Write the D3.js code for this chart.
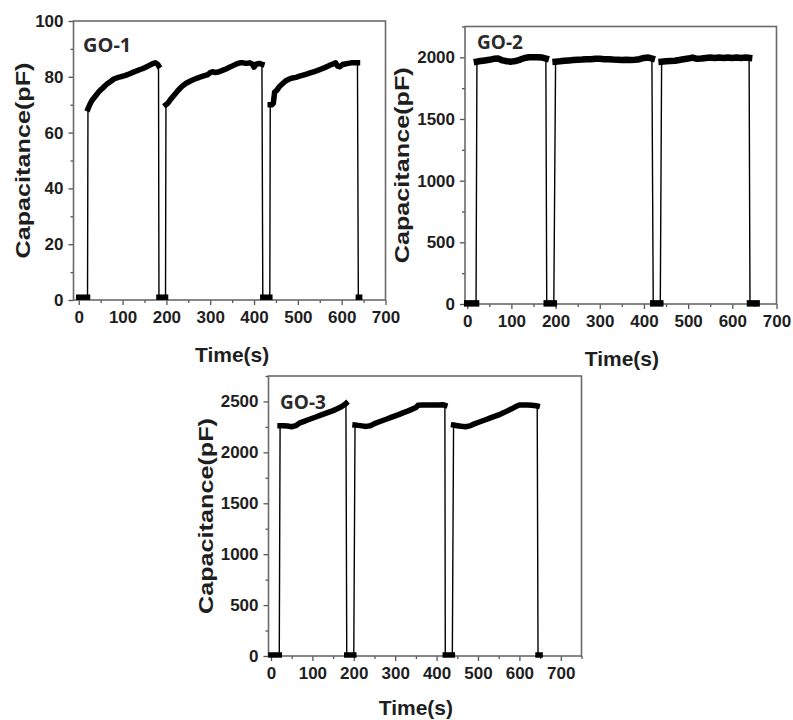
<!DOCTYPE html>
<html>
<head>
<meta charset="utf-8">
<script src="https://cdn.jsdelivr.net/npm/d3@7"></script>
<style>
  body { margin: 0; background: #fff; }
  svg { display: block; }
</style>
</head>
<body>
<svg id="fig" width="793" height="720"></svg>
<script>
// ---- data: capacitance vs time for three GO samples, three on/off cycles each ----
const go1Time = [0, 5, 10, 15, 20,
  21, 25, 30, 35, 40, 45, 50, 55, 60, 65, 70, 75, 80, 85, 90, 95, 100, 105, 110, 115, 120, 125, 130, 135, 140, 145, 150, 155, 160, 165, 170, 175, 180, 182,
  183, 188, 193, 198,
  199, 203, 210, 218, 226, 235, 245, 255, 265, 275, 285, 295, 300, 305, 312, 320, 328, 336, 344, 352, 360, 368, 375, 382, 390, 396, 400, 405, 412, 418,
  420, 425, 430, 436,
  437, 441, 444, 447, 451, 458, 465, 472, 480, 488, 496, 504, 512, 520, 528, 536, 544, 552, 560, 567, 574, 580, 586, 591, 596, 602, 608, 615, 622, 630, 636,
  638, 641];
const go1Cap = [1, 1, 1, 1, 1,
  68.5, 70, 71.5, 72.5, 73.5, 74.5, 75.3, 76, 76.8, 77.5, 78, 78.6, 79.2, 79.5, 79.8, 80, 80.2, 80.4, 80.7, 81, 81.3, 81.7, 82, 82.3, 82.6, 82.9, 83.2, 83.6, 84, 84.4, 84.8, 85, 84.5, 84,
  1, 1, 1, 1,
  70, 70.5, 72, 73.5, 75, 76.5, 77.7, 78.5, 79.2, 79.8, 80.3, 80.8, 81.5, 81.8, 81.5, 81.8, 82.3, 82.8, 83.4, 84, 84.6, 85, 85, 84.8, 85, 84.6, 83.5, 84.5, 84.8, 84.5,
  1, 1, 1, 1,
  70, 70, 70.5, 74.5, 75, 76.5, 77.5, 78.5, 79.2, 79.6, 79.8, 80.2, 80.6, 81, 81.4, 81.8, 82.2, 82.7, 83.2, 83.7, 84.2, 84.6, 85, 83.8, 83.6, 84.4, 84.6, 84.8, 85, 85, 85,
  1, 1];

const go2Time = [0, 5, 10, 15, 20,
  22, 30, 40, 50, 60, 70, 80, 90, 100, 110, 120, 130, 140, 150, 160, 170, 178,
  180, 185, 190, 196,
  200, 210, 220, 230, 240, 250, 260, 270, 280, 290, 300, 310, 320, 330, 340, 350, 360, 370, 380, 390, 400, 410, 418,
  421, 426, 431, 437,
  440, 450, 460, 470, 480, 490, 500, 510, 520, 530, 540, 550, 560, 570, 580, 590, 600, 610, 620, 630, 638,
  640, 645, 650, 655];
const go2Cap = [5, 5, 5, 5, 5,
  1965, 1970, 1975, 1980, 1988, 1990, 1975, 1968, 1965, 1970, 1982, 1995, 2000, 2000, 2000, 1998, 1990,
  5, 5, 5, 5,
  1965, 1968, 1972, 1975, 1978, 1980, 1982, 1985, 1985, 1988, 1988, 1985, 1985, 1982, 1980, 1978, 1980, 1978, 1980, 1985, 1995, 1998, 1990,
  5, 5, 5, 5,
  1965, 1968, 1970, 1972, 1978, 1985, 1990, 1998, 1988, 1990, 1995, 1998, 1995, 1998, 1995, 1998, 1995, 1998, 1995, 1998, 1995,
  5, 5, 5, 5];

const go3Time = [0, 5, 10, 15, 20,
  22, 30, 40, 50, 60, 70, 80, 90, 100, 110, 120, 130, 140, 150, 160, 170, 178, 181,
  183, 188, 193, 200,
  203, 210, 220, 230, 240, 250, 260, 270, 280, 290, 300, 310, 320, 330, 340, 350, 355, 365, 375, 385, 395, 405, 415, 420,
  421, 426, 431, 438,
  441, 450, 460, 470, 480, 490, 500, 510, 520, 530, 540, 550, 560, 570, 580, 590, 600, 610, 620, 630, 640, 643,
  645, 650];
const go3Cap = [10, 10, 10, 10, 10,
  2262, 2262, 2258, 2252, 2262, 2290, 2305, 2320, 2335, 2350, 2365, 2380, 2395, 2410, 2428, 2448, 2470, 2480,
  10, 10, 10, 10,
  2268, 2265, 2260, 2255, 2262, 2282, 2298, 2313, 2328, 2343, 2358, 2373, 2390, 2405, 2422, 2440, 2462, 2465, 2465, 2465, 2465, 2465, 2468, 2462,
  10, 10, 10, 10,
  2268, 2262, 2256, 2252, 2260, 2278, 2293, 2308, 2323, 2338, 2353, 2368, 2386, 2405, 2425, 2447, 2465, 2465, 2465, 2462, 2458, 2455,
  10, 10];

const timeTicks = [0, 100, 200, 300, 400, 500, 600, 700];
const go1Ticks = [0, 20, 40, 60, 80, 100];
const go2Ticks = [0, 500, 1000, 1500, 2000];
const go3Ticks = [0, 500, 1000, 1500, 2000, 2500];
const sampleNames = ["GO-1", "GO-2", "GO-3"];

// ---- panel layout ----
const panels = [
  { name: sampleNames[0], t: go1Time, c: go1Cap, yTicks: go1Ticks, xTicks: timeTicks,
    x0: 73.5, x1: 385.5, y0: 21, y1: 300, xDom: [-12, 700], yDom: [0, 100],
    yTitleX: 22, xTitleY: 362, labelX: 83, labelY: 51.5, labelSize: 20, thick: 5.5 },
  { name: sampleNames[1], t: go2Time, c: go2Cap, yTicks: go2Ticks, xTicks: timeTicks,
    x0: 465, x1: 776.5, y0: 26.5, y1: 304, xDom: [-5, 700], yDom: [0, 2250],
    yTitleX: 401, xTitleY: 366, labelX: 477, labelY: 48.5, labelSize: 19, thick: 6.5 },
  { name: sampleNames[2], t: go3Time, c: go3Cap, yTicks: go3Ticks, xTicks: timeTicks,
    x0: 268.5, x1: 581.5, y0: 376, y1: 656, xDom: [-6, 750], yDom: [0, 2750],
    yTitleX: 205, xTitleY: 715, labelX: 280, labelY: 408.5, labelSize: 19, thick: 5.5 }
];

const svg = d3.select("#fig");
const tickFont = "'Liberation Sans', Arial, sans-serif";
const plain = d3.format("d");

panels.forEach(p => {
  const x = d3.scaleLinear().domain(p.xDom).range([p.x0, p.x1]);
  const y = d3.scaleLinear().domain(p.yDom).range([p.y1, p.y0]);
  const g = svg.append("g");

  // minor ticks halfway between the labelled ones
  const xMinor = p.xTicks.slice(1).map((v, i) => (v + p.xTicks[i]) / 2)
    .concat([p.xTicks[p.xTicks.length - 1] + (p.xTicks[1] - p.xTicks[0]) / 2])
    .filter(v => v <= p.xDom[1]);
  const yMinor = p.yTicks.slice(1).map((v, i) => (v + p.yTicks[i]) / 2)
    .concat([p.yTicks[p.yTicks.length - 1] + (p.yTicks[1] - p.yTicks[0]) / 2])
    .filter(v => v <= p.yDom[1]);

  g.append("g").attr("transform", `translate(0,${p.y1})`)
    .call(d3.axisBottom(x).tickValues(p.xTicks).tickFormat(plain)
      .tickSize(5).tickSizeOuter(0).tickPadding(6));
  g.append("g").attr("transform", `translate(${p.x0},0)`)
    .call(d3.axisLeft(y).tickValues(p.yTicks).tickFormat(plain)
      .tickSize(5).tickSizeOuter(0).tickPadding(5));
  g.append("g").attr("transform", `translate(0,${p.y1})`)
    .call(d3.axisBottom(x).tickValues(xMinor).tickSize(3).tickFormat(""));
  g.append("g").attr("transform", `translate(${p.x0},0)`)
    .call(d3.axisLeft(y).tickValues(yMinor).tickSize(3).tickFormat(""));

  g.selectAll(".domain").remove();
  g.selectAll(".tick line").attr("stroke", "#555").attr("stroke-width", 1.3);
  g.selectAll(".tick text")
    .attr("fill", "#1e1e1e")
    .style("font-family", tickFont)
    .style("font-weight", "bold")
    .style("font-size", "17px");

  // frame
  g.append("rect")
    .attr("x", p.x0).attr("y", p.y0)
    .attr("width", p.x1 - p.x0).attr("height", p.y1 - p.y0)
    .attr("fill", "none").attr("stroke", "#6a6a6a").attr("stroke-width", 1.6);

  const pts = p.t.map((t, i) => [t, p.c[i]]);
  const line = d3.line().x(d => x(d[0])).y(d => y(d[1]));

  // thin connecting trace, including the on/off switching edges
  g.append("path").attr("d", line(pts))
    .attr("fill", "none").attr("stroke", "#000").attr("stroke-width", 1.4);

  // dense-marker runs: consecutive points without a switching jump
  const span = p.yDom[1] - p.yDom[0];
  const runs = [];
  let cur = [pts[0]];
  for (let i = 1; i < pts.length; i++) {
    if (Math.abs(pts[i][1] - pts[i - 1][1]) < 0.15 * span) cur.push(pts[i]);
    else { runs.push(cur); cur = [pts[i]]; }
  }
  runs.push(cur);
  runs.forEach(r => {
    g.append("path").attr("d", line(r.length > 1 ? r : [r[0], r[0]]))
      .attr("fill", "none").attr("stroke", "#000")
      .attr("stroke-width", p.thick)
      .attr("stroke-linecap", "square").attr("stroke-linejoin", "round");
  });

  // sample label
  g.append("text").attr("x", p.labelX).attr("y", p.labelY)
    .text(p.name)
    .attr("fill", "#2a2a2a")
    .style("font-family", "'Open Sans', 'Noto Sans', sans-serif")
    .style("font-weight", "bold")
    .style("font-size", p.labelSize + "px");

  // axis titles
  const yMid = (p.y0 + p.y1) / 2;
  g.append("text")
    .attr("transform", `translate(${p.yTitleX},${yMid}) rotate(-90)`)
    .attr("text-anchor", "middle").attr("dominant-baseline", "central")
    .attr("textLength", 196).attr("lengthAdjust", "spacingAndGlyphs")
    .text("Capacitance(pF)")
    .attr("fill", "#1e1e1e")
    .style("font-family", tickFont).style("font-weight", "bold").style("font-size", "21px");

  g.append("text")
    .attr("x", x((p.xTicks[0] + p.xTicks[p.xTicks.length - 1]) / 2))
    .attr("y", p.xTitleY)
    .attr("text-anchor", "middle")
    .text("Time(s)")
    .attr("fill", "#1e1e1e")
    .style("font-family", tickFont).style("font-weight", "bold").style("font-size", "21px");
});
</script>
</body>
</html>
